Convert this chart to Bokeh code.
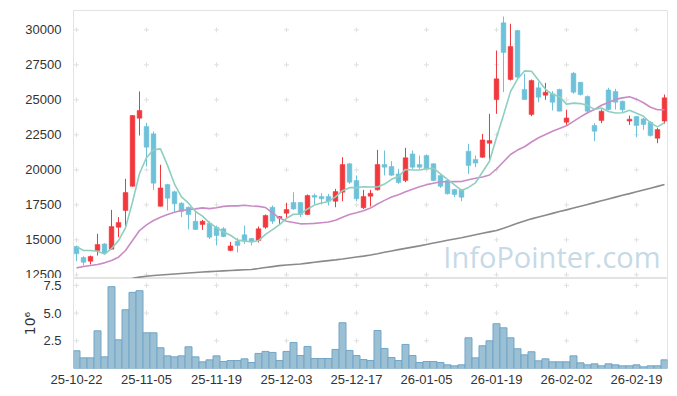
import numpy as np
from bokeh.plotting import figure
from bokeh.layouts import column
from bokeh.models import (Range1d, FixedTicker, SingleIntervalTicker, Label,
                          ColumnDataSource, PrintfTickFormatter)
from bokeh.embed import file_html
from bokeh.resources import INLINE

# ---------------- data ----------------
dates = [
    "25-10-22", "25-10-23", "25-10-24", "25-10-27", "25-10-28", "25-10-29", "25-10-30", "25-10-31",
    "25-11-03", "25-11-04", "25-11-05", "25-11-06", "25-11-07",
    "25-11-10", "25-11-11", "25-11-12", "25-11-13", "25-11-14",
    "25-11-17", "25-11-18", "25-11-19", "25-11-20", "25-11-21",
    "25-11-24", "25-11-25", "25-11-26", "25-11-27", "25-11-28",
    "25-12-01", "25-12-02", "25-12-03", "25-12-04", "25-12-05",
    "25-12-08", "25-12-09", "25-12-10", "25-12-11", "25-12-12",
    "25-12-15", "25-12-16", "25-12-17", "25-12-18", "25-12-19",
    "25-12-22", "25-12-23", "25-12-24", "25-12-26", "25-12-29", "25-12-30",
    "26-01-02", "26-01-05", "26-01-06", "26-01-07", "26-01-08", "26-01-09",
    "26-01-12", "26-01-13", "26-01-14", "26-01-15", "26-01-16",
    "26-01-19", "26-01-20", "26-01-21", "26-01-22", "26-01-23",
    "26-01-26", "26-01-27", "26-01-28", "26-01-29", "26-01-30",
    "26-02-02", "26-02-03", "26-02-04", "26-02-05", "26-02-06",
    "26-02-09", "26-02-10", "26-02-11", "26-02-12", "26-02-13",
    "26-02-19", "26-02-20", "26-02-23", "26-02-24", "26-02-25",
]

open_ = [14520, 13740, 13480, 14240, 14710, 14330, 15900, 17100, 18830, 23690,
         23100, 22570, 17400, 18950, 18430, 17620, 17330, 16330, 16100, 16190,
         15900, 15790, 14240, 14900, 15360, 15100, 14950, 15900, 17330, 16550,
         16900, 17670, 17670, 16810, 18170, 18100, 18100, 17760, 18400, 20430,
         19240, 17290, 18120, 18570, 20380, 20240, 19710, 19240, 21140, 20380,
         21020, 20430, 19600, 19240, 18600, 18600, 21330, 20740, 20900, 21900,
         25020, 30500, 26450, 29950, 25740, 23950, 25860, 25330, 25430, 25740,
         23400, 26900, 26260, 25240, 23170, 23520, 25710, 25600, 24900, 23480,
         23810, 23640, 23400, 22260, 23480]
high = [14600, 13830, 13880, 15430, 14760, 17140, 16620, 19360, 23900, 25600,
        23360, 22740, 20360, 19000, 18520, 17690, 17380, 17100, 16430, 16330,
        16020, 15900, 14860, 15140, 16020, 15140, 15950, 16810, 17450, 16690,
        17640, 18400, 17690, 18240, 18290, 18330, 18290, 18640, 20900, 20480,
        19600, 18570, 18570, 21430, 21380, 20620, 20070, 21570, 21380, 21020,
        21100, 20480, 19610, 19290, 18640, 18640, 21860, 21020, 22570, 24000,
        28520, 30950, 30430, 30000, 26860, 26450, 26260, 26210, 25620, 25790,
        24290, 26980, 26260, 25310, 23330, 24310, 25860, 25790, 24950, 23880,
        23830, 23710, 23480, 23000, 25380]
low = [13480, 13170, 13240, 13880, 13950, 14300, 15190, 15950, 18800, 22450,
       20240, 18570, 17380, 17100, 16980, 16620, 15740, 15740, 15710, 15070,
       14600, 15190, 14190, 14100, 14710, 14600, 14810, 15790, 16140, 16100,
       16500, 17140, 16620, 16790, 17520, 17520, 17450, 17330, 17760, 19000,
       17760, 17210, 17380, 18520, 19600, 19570, 19000, 19120, 20070, 20070,
       20000, 19190, 18710, 18240, 18050, 17760, 19710, 20190, 20860, 20670,
       24000, 25550, 26380, 26600, 25000, 23830, 24830, 25000, 24240, 24190,
       23210, 25430, 25310, 24000, 22050, 23330, 24240, 24310, 24120, 23210,
       22330, 22860, 22380, 21900, 23290]
close = [14000, 13400, 13810, 14670, 14050, 15950, 16240, 18380, 23880, 24240,
         21620, 19050, 18710, 17980, 17570, 17020, 16810, 15740, 16330, 15190,
         15310, 15240, 14570, 14600, 14900, 14900, 15790, 16740, 16330, 16670,
         17170, 17210, 16810, 18170, 18050, 17930, 17760, 18450, 20380, 19120,
         17930, 18100, 18330, 20380, 20190, 19620, 19100, 20860, 20190, 20190,
         20070, 19240, 18830, 18290, 18240, 18050, 20310, 20480, 22140, 22100,
         26500, 28380, 28810, 26620, 25020, 26380, 25190, 25550, 24830, 24190,
         23710, 25550, 25380, 24190, 22760, 24190, 24310, 24830, 24290, 23620,
         23170, 23240, 22450, 22880, 25140]

# volume, in millions of shares
volume_mil = [1.60, 0.96, 0.96, 3.40, 1.05, 7.38, 2.59, 5.30, 6.87, 7.02,
              3.22, 3.22, 1.87, 1.14, 1.05, 1.14, 1.96, 1.05, 0.60, 0.78,
              1.14, 0.63, 0.72, 0.72, 0.87, 0.54, 1.36, 1.54, 1.45, 0.72,
              1.54, 2.35, 1.17, 1.99, 0.90, 0.90, 0.90, 1.72, 4.13, 1.63,
              1.17, 0.81, 0.72, 3.43, 1.81, 0.99, 0.72, 2.17, 1.17, 0.54,
              0.63, 0.63, 0.54, 0.33, 0.24, 0.33, 2.77, 0.96, 2.05, 2.50,
              4.04, 3.67, 2.77, 1.78, 1.23, 1.51, 0.69, 0.87, 0.60, 0.60,
              0.60, 1.14, 0.51, 0.33, 0.42, 0.24, 0.42, 0.33, 0.24, 0.24,
              0.33, 0.15, 0.24, 0.24, 0.78]

ma5_head = [14520, 14240, 14240, 14190]
ma20_head = [13000, 13095, 13167, 13238, 13357, 13524, 13762, 14238, 14952, 15667,
             16071, 16381, 16619, 16810, 16976, 17095, 17167, 17214, 17286]
ma_long = [np.nan] * 8 + [
    12260, 12340, 12400, 12450, 12490, 12530, 12565, 12600, 12635, 12670,
    12700, 12730, 12760, 12785, 12810, 12835, 12860, 12885, 12950, 13020,
    13090, 13160, 13200, 13240, 13280, 13340, 13400, 13460, 13515, 13570,
    13630, 13700, 13770, 13840, 13920, 14010, 14110, 14210, 14300, 14390,
    14480, 14570, 14670, 14770, 14870, 14970, 15060, 15150, 15260, 15370,
    15470, 15570, 15670, 15830, 16000, 16180, 16340, 16500, 16630, 16760,
    16890, 17020, 17140, 17270, 17400, 17530, 17660, 17790, 17920, 18050,
    18180, 18300, 18430, 18560, 18690, 18820, 18950]

price_ticks_step = 2500
vol_ticks = [2.5, 5.0, 7.5]
date_tick_idx = list(range(0, 81, 10))

# ---------------- derived ----------------
n = len(dates)
idx = np.arange(n)
c = np.array(close, float)
o = np.array(open_, float)
ma5 = np.concatenate([ma5_head, np.convolve(c, np.ones(5) / 5, mode="valid")])
ma20 = np.concatenate([ma20_head, np.convolve(c, np.ones(20) / 20, mode="valid")])

UP = "#f0383d"
DOWN = "#6dc1d9"
colors = [UP if cc >= oo else DOWN for cc, oo in zip(c, o)]

src = ColumnDataSource(dict(
    x=idx, high=high, low=low,
    top=np.maximum(o, c), bottom=np.minimum(o, c), color=colors,
    vol=volume_mil,
))

FONT = "Liberation Sans"
TXT = "#333333"
GRIDC = "#e0e0e0"

x_range = Range1d(-0.43, 84.43)

# ---------------- price figure ----------------
p = figure(frame_width=594, frame_height=268, x_range=x_range,
           y_range=Range1d(12240, 31380), x_axis_location=None,
           output_backend="svg", toolbar_location=None,
           min_border_left=73, min_border_right=10, min_border_top=10, min_border_bottom=0)
p.xgrid.visible = False
p.ygrid.visible = False
p.outline_line_color = "#e3e3e3"
p.background_fill_color = "white"
p.border_fill_color = "white"

ax = p.yaxis[0]
ax.ticker = SingleIntervalTicker(interval=price_ticks_step)
ax.axis_line_color = None
ax.major_tick_line_color = None
ax.minor_tick_line_color = None
ax.major_label_text_font_size = "13px"
ax.major_label_text_font = FONT
ax.major_label_text_color = TXT
ax.major_label_standoff = 6

ptick_vals = list(range(12500, 30001, price_ticks_step))
gx = [xi for xi in date_tick_idx for _ in ptick_vals]
gy = [yv for _ in date_tick_idx for yv in ptick_vals]
p.scatter(gx, gy, marker="cross", size=5, line_color=GRIDC, line_width=1)

wm = Label(x=52.4, y=13790, text="InfoPointer.com", text_font_size="29px",
           text_font="Open Sans", text_color="#c6dae6", text_baseline="middle",
           level="underlay")
p.add_layout(wm)

p.segment(x0="x", x1="x", y0="low", y1="high", color="color", line_width=1, source=src)
p.vbar(x="x", width=0.68, top="top", bottom="bottom", fill_color="color",
       line_color="color", line_width=0.5, source=src)

p.line(idx, ma_long, line_color="#8a8a8a", line_width=1.6)
p.line(idx, ma20, line_color="#c98bc5", line_width=1.6)
p.line(idx, ma5, line_color="#8fcfc0", line_width=1.6)

# ---------------- volume figure ----------------
v = figure(frame_width=594, frame_height=90, x_range=x_range,
           y_range=Range1d(0, 8.12),
           output_backend="svg", toolbar_location=None,
           min_border_left=73, min_border_right=10, min_border_top=0, min_border_bottom=26)
v.xgrid.visible = False
v.ygrid.visible = False
v.outline_line_color = "#e3e3e3"

gx2 = [xi for xi in date_tick_idx for _ in vol_ticks]
gy2 = [yv for _ in date_tick_idx for yv in vol_ticks]
v.scatter(gx2, gy2, marker="cross", size=5, line_color=GRIDC, line_width=1)

v.vbar(x="x", top="vol", bottom=0, width=1.0, fill_color="#9bbfd3",
       line_color="#72a6c8", line_width=1, source=src)

vy = v.yaxis[0]
vy.ticker = FixedTicker(ticks=vol_ticks)
vy.formatter = PrintfTickFormatter(format="%.1f")
vy.axis_line_color = None
vy.major_tick_line_color = None
vy.minor_tick_line_color = None
vy.major_label_text_font_size = "13px"
vy.major_label_text_font = FONT
vy.major_label_text_color = TXT
vy.major_label_standoff = 6
vy.axis_label = "10⁶"
vy.axis_label_text_font_size = "14px"
vy.axis_label_text_font_style = "normal"
vy.axis_label_text_font = "DejaVu Sans"
vy.axis_label_text_color = TXT
vy.axis_label_standoff = 2

vx = v.xaxis[0]
vx.ticker = FixedTicker(ticks=date_tick_idx)
vx.major_label_overrides = {i: dates[i] for i in date_tick_idx}
vx.axis_line_color = None
vx.major_tick_line_color = None
vx.minor_tick_line_color = None
vx.major_label_text_font_size = "13px"
vx.major_label_text_font = FONT
vx.major_label_text_color = TXT
vx.major_label_standoff = 0

layout = column(p, v, spacing=0)
open("out.html", "w").write(file_html(layout, INLINE))
